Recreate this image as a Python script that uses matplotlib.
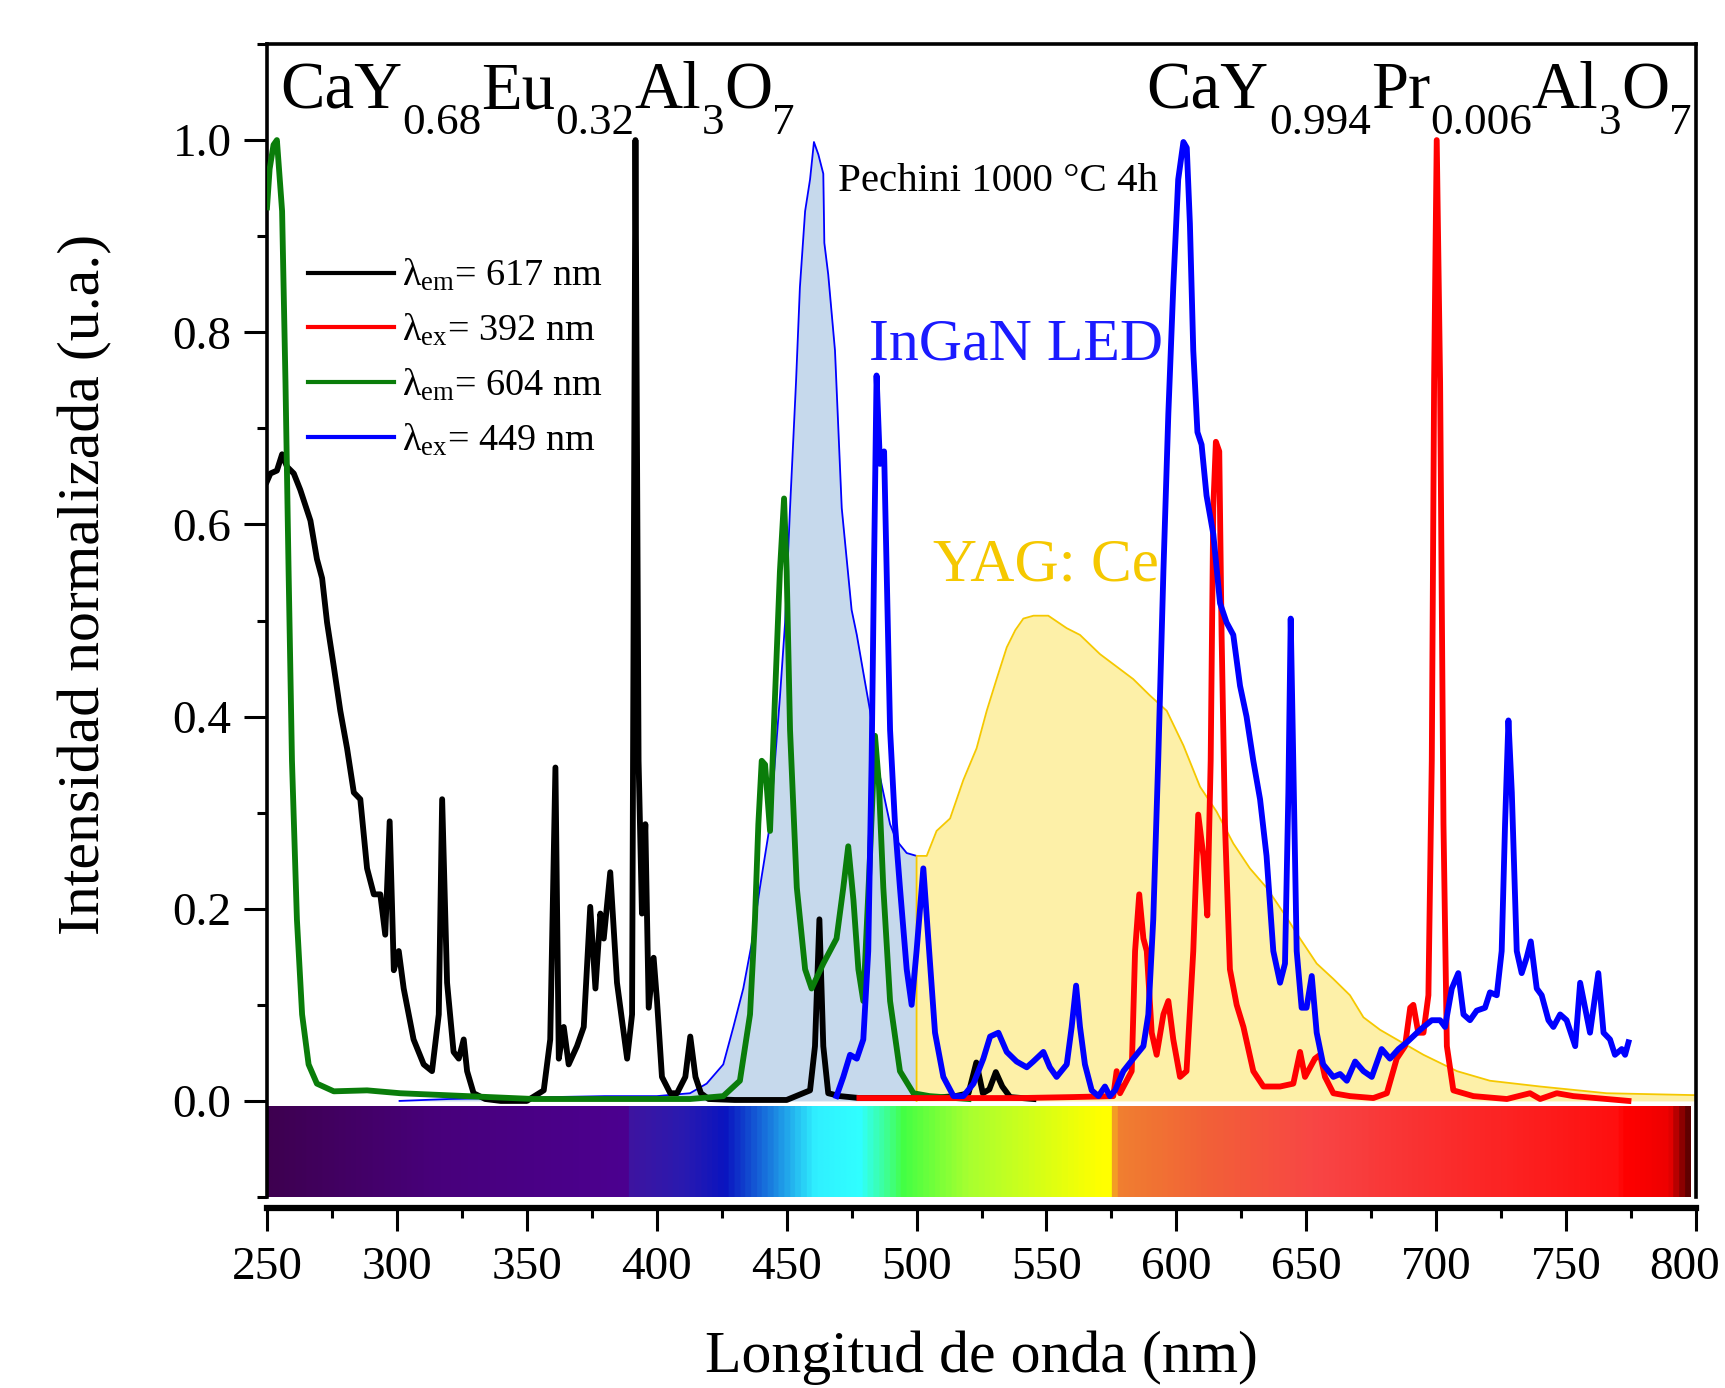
import numpy as np
import matplotlib
matplotlib.use('Agg')
import matplotlib.pyplot as plt
from matplotlib.colors import LinearSegmentedColormap
from matplotlib.ticker import MultipleLocator

plt.rcParams['font.family'] = 'Liberation Serif'
plt.rcParams['mathtext.fontset'] = 'custom'
plt.rcParams['mathtext.rm'] = 'Liberation Serif'
plt.rcParams['mathtext.it'] = 'Liberation Serif:italic'
plt.rcParams['mathtext.bf'] = 'Liberation Serif:bold'

x_ticks = [250, 300, 350, 400, 450, 500, 550, 600, 650, 700, 750, 800]
y_ticks = [0.0, 0.2, 0.4, 0.6, 0.8, 1.0]

# excitation of CaY0.68Eu0.32Al3O7 (lambda_em = 617 nm)
black_x = [250, 251.3, 253.8, 255.8, 257.7, 260.3, 262.8, 266.7, 269.2, 271.2, 273.1, 275.7, 278.2, 280.8,
           283.4, 285.9, 288.5, 291.1, 293.6, 295.5, 297.2, 298.8, 300.7, 302.6, 306.4, 310.3, 313.5, 316.1,
           317.4, 319.3, 321.8, 323.8, 325.7, 327, 329.5, 334, 340, 350, 356.5, 359, 361, 362.3, 364.2, 366.1,
           369.3, 371.9, 374.4, 376.4, 378.3, 379.6, 382.1, 384.7, 388.6, 390.5, 391.8, 393, 394.3, 395.6,
           396.9, 398.8, 400.1, 402, 405.2, 407.8, 411, 412.9, 414.9, 417, 420, 430, 440, 450, 459, 460.9,
           462.6, 464.1, 466, 470.5, 478, 490, 505, 515, 520, 523, 525.5, 528, 530.5, 533, 536, 545]
black_y = [0.645, 0.653, 0.656, 0.673, 0.66, 0.653, 0.636, 0.604, 0.564, 0.544, 0.498, 0.452, 0.406, 0.367,
           0.321, 0.314, 0.242, 0.215, 0.215, 0.173, 0.291, 0.136, 0.156, 0.117, 0.064, 0.038, 0.031, 0.090,
           0.314, 0.123, 0.051, 0.044, 0.064, 0.031, 0.008, 0.002, 0.0, 0.0, 0.011, 0.064, 0.347, 0.044, 0.077,
           0.038, 0.057, 0.077, 0.202, 0.117, 0.195, 0.169, 0.238, 0.123, 0.044, 0.090, 1.0, 0.354, 0.195,
           0.288, 0.097, 0.149, 0.104, 0.025, 0.008, 0.008, 0.025, 0.067, 0.025, 0.008, 0.002, 0.001, 0.001,
           0.001, 0.011, 0.057, 0.189, 0.057, 0.008, 0.005, 0.003, 0.003, 0.003, 0.005, 0.008, 0.04, 0.008,
           0.012, 0.03, 0.015, 0.004, 0.002]

# emission of CaY0.68Eu0.32Al3O7 (lambda_ex = 392 nm)
red_x = [478, 500, 520, 540, 560, 575.7, 577, 578.3, 582.8, 584.1, 585.7, 587.3, 588.6, 590.5, 592.4, 595,
         596.9, 598.8, 601.4, 603.9, 606.5, 608.4, 610.4, 611.9, 613.2, 614.2, 615.2, 616.5, 617.4, 618.7,
         620.6, 623.2, 625.8, 629.6, 633.5, 639.9, 645, 647.6, 649.5, 653.3, 655.3, 657.2, 660.4, 666.8,
         675.8, 681, 684.8, 688, 690, 691.2, 693.1, 695.1, 697, 698.3, 699.2, 700.2, 701.5, 702.8, 704.1,
         706.6, 714.3, 727.2, 736.1, 740, 746.4, 752.8, 765.6, 774]
red_y = [0.003, 0.003, 0.003, 0.003, 0.004, 0.005, 0.031, 0.008, 0.031, 0.156, 0.215, 0.169, 0.156, 0.071,
         0.048, 0.090, 0.104, 0.064, 0.025, 0.031, 0.156, 0.298, 0.255, 0.193, 0.354, 0.617, 0.686, 0.676,
         0.485, 0.288, 0.137, 0.100, 0.077, 0.031, 0.015, 0.015, 0.018, 0.051, 0.025, 0.044, 0.048, 0.025,
         0.008, 0.005, 0.003, 0.008, 0.044, 0.057, 0.097, 0.100, 0.071, 0.071, 0.110, 0.354, 0.75, 1.0,
         0.748, 0.288, 0.057, 0.011, 0.005, 0.002, 0.008, 0.002, 0.008, 0.005, 0.002, 0.0]

# excitation of CaY0.994Pr0.006Al3O7 (lambda_em = 604 nm)
green_x = [250, 251, 252.5, 253.8, 255.8, 257.1, 258.3, 259.6, 261.5, 263.5, 266, 269.2, 275.7, 288.5,
           301.3, 327, 352.6, 380, 400, 412.8, 425.6, 432, 435.9, 437.8, 439.1, 440.4, 441.7, 443.6, 445.5,
           447.4, 449, 450, 451.3, 453.9, 457.1, 459.6, 464.1, 469.2, 471.8, 473.7, 475.7, 477.6, 479.5,
           482, 484, 485.5, 487.2, 489.8, 493.6, 498.8, 505, 515, 520]
green_y = [0.93, 0.97, 0.995, 1.0, 0.926, 0.748, 0.551, 0.354, 0.189, 0.090, 0.038, 0.018, 0.010, 0.011,
           0.008, 0.005, 0.002, 0.002, 0.002, 0.002, 0.005, 0.021, 0.090, 0.189, 0.288, 0.354, 0.35, 0.281,
           0.42, 0.551, 0.627, 0.551, 0.386, 0.222, 0.137, 0.117, 0.143, 0.169, 0.222, 0.265, 0.209, 0.137,
           0.104, 0.25, 0.38, 0.33, 0.222, 0.104, 0.031, 0.008, 0.005, 0.003, 0.002]

# emission of CaY0.994Pr0.006Al3O7 (lambda_ex = 449 nm)
blue_x = [469.2, 471.8, 474.4, 477, 479.5, 481.4, 482.7, 483.6, 484.6, 485.9, 487.5, 488.5, 489.8, 491.7,
          493.6, 496.2, 498.1, 500, 502.6, 504.5, 507.1, 510.3, 514.2, 518, 521.9, 525.7, 528.3, 531.5,
          534.7, 538.5, 542.4, 544.9, 548.8, 551.3, 553.9, 557.8, 559.7, 561.4, 562.9, 564.8, 567.4, 570,
          572.5, 574.4, 576.4, 579.6, 583.4, 587.3, 589.2, 591.1, 593, 595, 596.9, 598.8, 600.7, 602.7, 604,
          605.2, 606.5, 608.1, 609.7, 611.6, 614.2, 616.8, 619.3, 621.9, 624.5, 627, 629.6, 632.2, 634.7,
          637.3, 639.9, 641.8, 643.1, 644, 645, 646.3, 648.2, 650.1, 652.1, 654, 656.5, 660.4, 663, 665.6,
          668.8, 672, 675.2, 679, 682.2, 685.5, 688.7, 693.8, 698.3, 701.5, 703.4, 706, 708.5, 710.5, 713,
          715.6, 718.8, 720.7, 723.3, 725.2, 726.5, 727.8, 729.1, 731, 732.9, 734.8, 736.4, 738.7, 740.6,
          743.2, 745.1, 747.7, 750.2, 753.5, 755.4, 757.3, 759.2, 762.4, 764.4, 766.9, 768.8, 771.4, 772.7, 774]
blue_y = [0.005, 0.025, 0.048, 0.044, 0.064, 0.156, 0.354, 0.551, 0.755, 0.663, 0.676, 0.551, 0.386, 0.288,
          0.222, 0.137, 0.100, 0.156, 0.242, 0.169, 0.071, 0.025, 0.005, 0.005, 0.018, 0.044, 0.067, 0.071,
          0.051, 0.041, 0.035, 0.041, 0.051, 0.035, 0.025, 0.038, 0.077, 0.120, 0.077, 0.038, 0.011, 0.005,
          0.015, 0.005, 0.011, 0.031, 0.044, 0.057, 0.090, 0.189, 0.354, 0.551, 0.715, 0.847, 0.959, 0.998,
          0.992, 0.913, 0.781, 0.696, 0.683, 0.630, 0.590, 0.518, 0.498, 0.485, 0.432, 0.400, 0.354, 0.314,
          0.255, 0.156, 0.123, 0.143, 0.321, 0.502, 0.354, 0.156, 0.097, 0.097, 0.130, 0.071, 0.038, 0.025,
          0.028, 0.021, 0.041, 0.031, 0.025, 0.054, 0.044, 0.054, 0.061, 0.074, 0.084, 0.084, 0.077, 0.117,
          0.133, 0.090, 0.084, 0.094, 0.097, 0.113, 0.110, 0.156, 0.288, 0.396, 0.321, 0.156, 0.133, 0.149,
          0.166, 0.117, 0.110, 0.084, 0.077, 0.090, 0.084, 0.057, 0.123, 0.097, 0.071, 0.133, 0.071, 0.064,
          0.048, 0.054, 0.048, 0.061]

# InGaN LED emission
led_x = [301, 320, 340, 360, 380, 400, 412.8, 419.2, 425.6, 429.5, 433.3, 436.5, 439.7, 443.6, 447.4, 449.4,
         451.3, 453.6, 455.1, 457.1, 459, 460.5, 462.2, 464.1, 464.5, 466, 468.6, 471.2, 473.1, 475, 477,
         479.5, 482.1, 484.6, 487.2, 489.8, 492.3, 496.2, 500]
led_y = [0.0, 0.002, 0.003, 0.004, 0.005, 0.005, 0.008, 0.018, 0.038, 0.077, 0.117, 0.163, 0.222, 0.288,
         0.42, 0.498, 0.617, 0.748, 0.847, 0.926, 0.959, 0.998, 0.985, 0.965, 0.893, 0.86, 0.781, 0.617,
         0.564, 0.511, 0.485, 0.446, 0.406, 0.354, 0.321, 0.288, 0.271, 0.258, 0.255]

# YAG:Ce emission
yag_x = [500, 503.9, 507.7, 512.9, 518, 523.1, 527, 530.8, 534.7, 538, 541.1, 545, 550.7, 557.8, 562.9,
         570.6, 577, 583.4, 589.8, 596.3, 602.7, 609.1, 615.5, 621.9, 628.3, 634.7, 641.2, 647.6, 654, 660.4,
         666.8, 672, 678.4, 684.8, 695.1, 708, 720.7, 740, 765.6, 800]
yag_y = [0.255, 0.255, 0.281, 0.294, 0.334, 0.367, 0.406, 0.439, 0.472, 0.49, 0.502, 0.505, 0.505, 0.492,
         0.485, 0.465, 0.452, 0.439, 0.422, 0.406, 0.37, 0.327, 0.301, 0.268, 0.242, 0.222, 0.196, 0.169,
         0.143, 0.127, 0.110, 0.087, 0.074, 0.064, 0.048, 0.031, 0.021, 0.015, 0.008, 0.006]

# visible spectrum strip under the curves
spec_nm = [250, 316, 388, 389, 410, 426, 444, 461, 478, 490, 495, 520, 571, 575.5, 577, 613, 655, 698,
           770, 774, 791, 798]
spec_col = ['#3e0050', '#48007c', '#4c0090', '#3e14a0', '#2a1ab0', '#0a14c0', '#1a80e0', '#30f0ff',
            '#30ffff', '#40ff80', '#44ff44', '#a8ff30', '#ffff00', '#ffff00', '#f08030', '#f26038',
            '#f84545', '#fa3030', '#ff1010', '#ff0000', '#ee0000', '#600000']

# formula pieces: (text, is_subscript)
eu_formula = [('CaY', False), ('0.68', True), ('Eu', False), ('0.32', True), ('Al', False), ('3', True),
              ('O', False), ('7', True)]
pr_formula = [('CaY', False), ('0.994', True), ('Pr', False), ('0.006', True), ('Al', False), ('3', True),
              ('O', False), ('7', True)]

fig = plt.figure(figsize=(17.25, 13.88), dpi=100)
ax = fig.add_axes([0.1548, 0.1376, 0.8284, 0.8307])

cmap = LinearSegmentedColormap.from_list(
    'spec', [((w - spec_nm[0]) / (spec_nm[-1] - spec_nm[0]), c) for w, c in zip(spec_nm, spec_col)])
ax.imshow(np.linspace(spec_nm[0], spec_nm[-1], 1200)[None, :], cmap=cmap, aspect='auto',
          extent=(spec_nm[0], spec_nm[-1], -0.1, -0.006), interpolation='bilinear', zorder=1)

ax.fill_between(led_x, led_y, 0, color='#c6d9ec', lw=0, zorder=1.2)
ax.plot(led_x, led_y, color='#0000ff', lw=1.3, zorder=1.3)
ax.fill_between(yag_x, yag_y, 0, color='#fdf0a8', lw=0, zorder=1.4)
ax.plot([yag_x[0]] + yag_x + [yag_x[-1]], [0] + yag_y + [0], color='#f5c800', lw=1.3, zorder=1.5)

lw = 4.2
ax.plot(black_x, black_y, color='black', lw=lw, label=r'$\mathrm{λ_{em}}$= 617 nm', zorder=3)
ax.plot(red_x, red_y, color='#ff0000', lw=lw, label=r'$\mathrm{λ_{ex}}$= 392 nm', zorder=5)
ax.plot(green_x, green_y, color='#0a7d0a', lw=lw, label=r'$\mathrm{λ_{em}}$= 604 nm', zorder=4)
ax.plot(blue_x, blue_y, color='#0000ff', lw=lw, label=r'$\mathrm{λ_{ex}}$= 449 nm', zorder=6)

ax.set_xlim(250, 800)
ax.set_ylim(-0.1, 1.1)
# the last label is drawn separately, nudged so it stays inside the figure
ax.set_xticks(x_ticks, [str(v) for v in x_ticks[:-1]] + [''])
ax.xaxis.set_minor_locator(MultipleLocator(25))
ax.set_yticks(y_ticks, ['%.1f' % v for v in y_ticks])
ax.yaxis.set_minor_locator(MultipleLocator(0.1))
ax.tick_params(which='major', direction='out', length=16.5, width=2.2, labelsize=34)
ax.tick_params(which='minor', direction='out', length=7, width=2.2)
ax.tick_params(axis='x', which='major', pad=11)
ax.tick_params(axis='y', which='major', pad=9)
for s in ['left', 'top', 'right']:
    ax.spines[s].set_linewidth(2.6)
ax.spines['bottom'].set_linewidth(4.5)
ax.spines['bottom'].set_position(('outward', 8))
ax.annotate(str(x_ticks[-1]), xy=(x_ticks[-1], 0), xycoords=('data', 'axes fraction'),
            xytext=(-8, -35.5), textcoords='offset points', ha='center', va='top', fontsize=34,
            annotation_clip=False)

ax.set_xlabel('Longitud de onda (nm)', fontsize=43)
ax.set_ylabel('Intensidad normalizada (u.a.)', fontsize=43)
ax.xaxis.set_label_coords(0.5, -0.116)
ax.yaxis.set_label_coords(-0.108, 0.531)


def formula(x0, y0, pieces, size=48, sub_size=32.5, drop=0.027):
    prev = None
    for s, sub in pieces:
        fs = sub_size if sub else size
        y = y0 - drop if sub else y0
        if prev is None:
            prev = ax.text(x0, y, s, fontsize=fs, va='baseline', ha='left')
        else:
            prev = ax.annotate(s, xy=(1, y), xycoords=(prev, 'data'), fontsize=fs,
                               va='baseline', ha='left')


formula(255, 1.033, eu_formula)
formula(588.5, 1.033, pr_formula)

ax.text(469.8, 0.947, 'Pechini 1000 °C 4h', fontsize=29.5, va='baseline', ha='left')
ax.text(481.7, 0.772, 'InGaN LED', fontsize=43, color='#1a1aff', va='baseline', ha='left')
ax.text(506.3, 0.542, 'YAG: Ce', fontsize=44, color='#f5c800', va='baseline', ha='left')

leg = ax.legend(loc='upper left', bbox_to_anchor=(0.018, 0.828), frameon=False, fontsize=27.5,
                handlelength=2.25, handletextpad=0.2, labelspacing=0.48, borderaxespad=0)
for l in leg.get_lines():
    l.set_linewidth(3.0)

fig.savefig('out.png', dpi=100)
